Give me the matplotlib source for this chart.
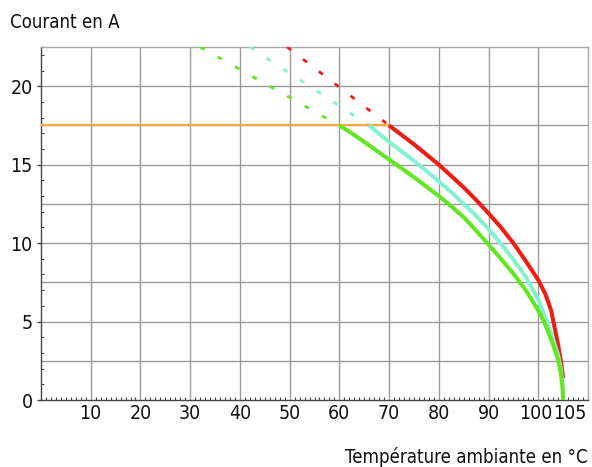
import os
import numpy as np
import matplotlib
matplotlib.use("Agg")
import matplotlib.pyplot as plt
from matplotlib import font_manager
from matplotlib.font_manager import FontProperties
from matplotlib.ticker import FixedLocator, MultipleLocator, NullFormatter
from matplotlib.transforms import ScaledTranslation

# ---- data ----
orange_x = [0, 70]
orange_y = [17.5, 17.5]

red_x = [70, 72.5, 75, 77.5, 80, 82.5, 85, 87.5, 90, 92.5, 95, 97.5, 100, 101.5, 102.6, 103.3, 104, 104.6, 105]
red_y = [17.5, 16.9, 16.3, 15.65, 15.0, 14.28, 13.55, 12.75, 11.9, 11.0, 10.0, 8.85, 7.65, 6.7, 5.7, 4.6, 3.5, 2.4, 1.4]
red_dot_x = [49.5, 70]
red_dot_y = [22.5, 17.5]

cyan_x = [66, 67.5, 70, 72.5, 75, 77.5, 80, 82.5, 85, 87.5, 90, 92.5, 95, 97.5, 100, 101, 102, 103, 104, 104.6, 104.9, 105]
cyan_y = [17.5, 17.1, 16.45, 15.85, 15.25, 14.6, 13.95, 13.25, 12.5, 11.75, 10.9, 9.95, 8.95, 7.85, 6.4, 5.6, 4.75, 3.85, 2.85, 1.9, 0.9, 0.0]
cyan_dot_x = [42, 66]
cyan_dot_y = [22.5, 17.5]

green_x = [60, 62.5, 65, 67.5, 70, 72.5, 75, 77.5, 80, 82.5, 85, 87.5, 90, 92.5, 95, 97.5, 100, 101, 102, 103, 104, 104.6, 104.9, 105]
green_y = [17.5, 17.0, 16.45, 15.9, 15.33, 14.77, 14.2, 13.6, 13.0, 12.35, 11.65, 10.8, 9.9, 9.0, 8.05, 7.0, 5.7, 5.1, 4.35, 3.5, 2.55, 1.6, 0.7, 0.0]
green_dot_x = [32, 60]
green_dot_y = [22.5, 17.5]

x_ticks = [10, 20, 30, 40, 50, 60, 70, 80, 90, 100, 105]
x_grid = [10, 20, 30, 40, 50, 60, 70, 80, 90, 100]
y_ticks = [0, 5, 10, 15, 20]
y_grid = [2.5, 5, 7.5, 10, 12.5, 15, 17.5, 20]

# ---- font: DejaVu Sans Condensed if its file is installed ----
cond_files = [f.fname for f in font_manager.fontManager.ttflist
              if os.path.basename(f.fname) == 'DejaVuSansCondensed.ttf']
if cond_files:
    def fp(size):
        return FontProperties(fname=cond_files[0], size=size)
    TICK_FS, LAB_FS = 14, 13.4
else:
    def fp(size):
        return FontProperties(family=['Liberation Sans', 'DejaVu Sans'], size=size)
    TICK_FS, LAB_FS = 12.5, 13.5

RED = '#ee1c13'
CYAN = '#84f2d2'
GREEN = '#62e621'
ORANGE = '#f6a93f'
GRID = '#9a9a9a'

fig = plt.figure(figsize=(5.92, 4.67), dpi=100)
ax = fig.add_axes([41/592, 1-400/467, 547/592, 353/467])
ax.set_xlim(0, 110)
ax.set_ylim(0, 22.5)

for gx in x_grid:
    ax.axvline(gx, color=GRID, lw=1.0, zorder=1)
for gy in y_grid:
    ax.axhline(gy, color=GRID, lw=1.0, zorder=1)

dot = (0, (1.8, 5.4))
ax.plot(green_dot_x, green_dot_y, color=GREEN, lw=2, linestyle=dot, zorder=3)
ax.plot(cyan_dot_x, cyan_dot_y, color=CYAN, lw=2, linestyle=dot, zorder=3)
ax.plot(red_dot_x, red_dot_y, color=RED, lw=2, linestyle=dot, zorder=3)

ax.plot(orange_x, orange_y, color=ORANGE, lw=1.6, zorder=4)
ax.plot(red_x, red_y, color=RED, lw=2.9, zorder=5, solid_capstyle='butt', solid_joinstyle='round')
ax.plot(cyan_x, cyan_y, color=CYAN, lw=2.9, zorder=5, solid_capstyle='butt', solid_joinstyle='round')
ax.plot(green_x, green_y, color=GREEN, lw=2.9, zorder=6, solid_capstyle='butt', solid_joinstyle='round')

for s in ['top', 'right']:
    ax.spines[s].set_color('#a8a8a8')
    ax.spines[s].set_linewidth(1.0)
for s in ['left', 'bottom']:
    ax.spines[s].set_color('#444444')
    ax.spines[s].set_linewidth(1.0)

ax.xaxis.set_major_locator(FixedLocator(x_ticks))
ax.xaxis.set_minor_locator(MultipleLocator(1))
ax.xaxis.set_minor_formatter(NullFormatter())
ax.set_xticklabels([str(v) for v in x_ticks])
ax.yaxis.set_major_locator(FixedLocator(y_ticks))
ax.yaxis.set_minor_locator(MultipleLocator(1))
ax.set_yticklabels([str(v) for v in y_ticks])

ax.tick_params(axis='x', which='major', length=0, pad=3, colors='#222222', labelcolor='#111111')
ax.tick_params(axis='x', which='minor', direction='in', length=2, width=0.8, colors='#444444')
ax.tick_params(axis='y', which='major', direction='out', length=3, width=1, pad=3, colors='#444444', labelcolor='#111111')
ax.tick_params(axis='y', which='minor', direction='in', length=2, width=0.8, colors='#444444')

for lab in ax.get_xticklabels() + ax.get_yticklabels():
    lab.set_fontproperties(fp(TICK_FS))

# nudge the crowded "100" / "105" labels apart as in the reference
xl = ax.get_xticklabels()
xl[-2].set_transform(xl[-2].get_transform() + ScaledTranslation(-2/100, 0, fig.dpi_scale_trans))
xl[-1].set_transform(xl[-1].get_transform() + ScaledTranslation(7/100, 0, fig.dpi_scale_trans))

fig.text(10/592, 1-28/467, 'Courant en A', fontproperties=fp(LAB_FS),
         ha='left', va='baseline', color='#111111')
fig.text(588/592, 1-463/467, 'Température ambiante en °C', fontproperties=fp(LAB_FS),
         ha='right', va='baseline', color='#111111')

fig.savefig('out.png', dpi=100)
